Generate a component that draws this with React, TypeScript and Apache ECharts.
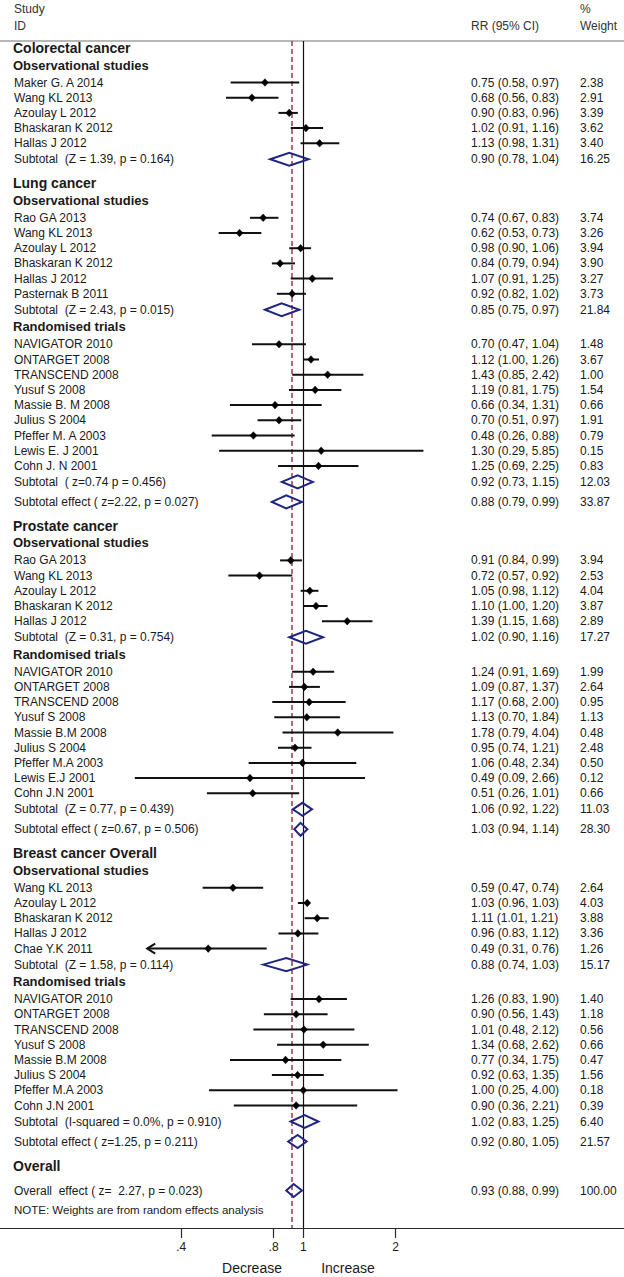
import React, { useEffect, useRef } from "react";
import * as echarts from "echarts";

const WIDTH = 624;
const HEIGHT = 1277;
const FONT = '"Liberation Sans", Arial, Helvetica, sans-serif';

// ---------------- Data ----------------
// Colorectal cancer – observational studies
const crcObsStudies = ["Maker G. A 2014", "Wang KL 2013", "Azoulay L 2012", "Bhaskaran K 2012", "Hallas J 2012"];
const crcObsRR = [0.75, 0.68, 0.9, 1.02, 1.13];
const crcObsLo = [0.58, 0.56, 0.83, 0.91, 0.98];
const crcObsHi = [0.97, 0.83, 0.96, 1.16, 1.31];
const crcObsW = [2.38, 2.91, 3.39, 3.62, 3.4];
const crcObsSubtotal = { label: "Subtotal  (Z = 1.39, p = 0.164)", rr: 0.9, lo: 0.78, hi: 1.04, w: 16.25 };

// Lung cancer – observational studies
const lungObsStudies = ["Rao GA 2013", "Wang KL 2013", "Azoulay L 2012", "Bhaskaran K 2012", "Hallas J 2012", "Pasternak B 2011"];
const lungObsRR = [0.74, 0.62, 0.98, 0.84, 1.07, 0.92];
const lungObsLo = [0.67, 0.53, 0.9, 0.79, 0.91, 0.82];
const lungObsHi = [0.83, 0.73, 1.06, 0.94, 1.25, 1.02];
const lungObsW = [3.74, 3.26, 3.94, 3.9, 3.27, 3.73];
const lungObsSubtotal = { label: "Subtotal  (Z = 2.43, p = 0.015)", rr: 0.85, lo: 0.75, hi: 0.97, w: 21.84 };

// Lung cancer – randomised trials
const lungRctStudies = ["NAVIGATOR 2010", "ONTARGET 2008", "TRANSCEND 2008", "Yusuf S 2008", "Massie B. M 2008", "Julius S 2004", "Pfeffer M. A 2003", "Lewis E. J 2001", "Cohn J. N 2001"];
const lungRctRR = [0.7, 1.12, 1.43, 1.19, 0.66, 0.7, 0.48, 1.3, 1.25];
const lungRctLo = [0.47, 1.0, 0.85, 0.81, 0.34, 0.51, 0.26, 0.29, 0.69];
const lungRctHi = [1.04, 1.26, 2.42, 1.75, 1.31, 0.97, 0.88, 5.85, 2.25];
const lungRctW = [1.48, 3.67, 1.0, 1.54, 0.66, 1.91, 0.79, 0.15, 0.83];
const lungRctSubtotal = { label: "Subtotal  ( z=0.74 p = 0.456)", rr: 0.92, lo: 0.73, hi: 1.15, w: 12.03 };
const lungEffect = { label: "Subtotal effect ( z=2.22, p = 0.027)", rr: 0.88, lo: 0.79, hi: 0.99, w: 33.87 };

// Prostate cancer – observational studies
const prosObsStudies = ["Rao GA 2013", "Wang KL 2013", "Azoulay L 2012", "Bhaskaran K 2012", "Hallas J 2012"];
const prosObsRR = [0.91, 0.72, 1.05, 1.1, 1.39];
const prosObsLo = [0.84, 0.57, 0.98, 1.0, 1.15];
const prosObsHi = [0.99, 0.92, 1.12, 1.2, 1.68];
const prosObsW = [3.94, 2.53, 4.04, 3.87, 2.89];
const prosObsSubtotal = { label: "Subtotal  (Z = 0.31, p = 0.754)", rr: 1.02, lo: 0.9, hi: 1.16, w: 17.27 };

// Prostate cancer – randomised trials
const prosRctStudies = ["NAVIGATOR 2010", "ONTARGET 2008", "TRANSCEND 2008", "Yusuf S 2008", "Massie B.M 2008", "Julius S 2004", "Pfeffer M.A 2003", "Lewis E.J 2001", "Cohn J.N 2001"];
const prosRctRR = [1.24, 1.09, 1.17, 1.13, 1.78, 0.95, 1.06, 0.49, 0.51];
const prosRctLo = [0.91, 0.87, 0.68, 0.7, 0.79, 0.74, 0.48, 0.09, 0.26];
const prosRctHi = [1.69, 1.37, 2.0, 1.84, 4.04, 1.21, 2.34, 2.66, 1.01];
const prosRctW = [1.99, 2.64, 0.95, 1.13, 0.48, 2.48, 0.5, 0.12, 0.66];
const prosRctSubtotal = { label: "Subtotal  (Z = 0.77, p = 0.439)", rr: 1.06, lo: 0.92, hi: 1.22, w: 11.03 };
const prosEffect = { label: "Subtotal effect ( z=0.67, p = 0.506)", rr: 1.03, lo: 0.94, hi: 1.14, w: 28.3 };

// Breast cancer – observational studies
const brObsStudies = ["Wang KL 2013", "Azoulay L 2012", "Bhaskaran K 2012", "Hallas J 2012", "Chae Y.K 2011"];
const brObsRR = [0.59, 1.03, 1.11, 0.96, 0.49];
const brObsLo = [0.47, 0.96, 1.01, 0.83, 0.31];
const brObsHi = [0.74, 1.03, 1.21, 1.12, 0.76];
const brObsW = [2.64, 4.03, 3.88, 3.36, 1.26];
const brObsSubtotal = { label: "Subtotal  (Z = 1.58, p = 0.114)", rr: 0.88, lo: 0.74, hi: 1.03, w: 15.17 };

// Breast cancer – randomised trials
const brRctStudies = ["NAVIGATOR 2010", "ONTARGET 2008", "TRANSCEND 2008", "Yusuf S 2008", "Massie B.M 2008", "Julius S 2004", "Pfeffer M.A 2003", "Cohn J.N 2001"];
const brRctRR = [1.26, 0.9, 1.01, 1.34, 0.77, 0.92, 1.0, 0.9];
const brRctLo = [0.83, 0.56, 0.48, 0.68, 0.34, 0.63, 0.25, 0.36];
const brRctHi = [1.9, 1.43, 2.12, 2.62, 1.75, 1.35, 4.0, 2.21];
const brRctW = [1.4, 1.18, 0.56, 0.66, 0.47, 1.56, 0.18, 0.39];
const brRctSubtotal = { label: "Subtotal  (I-squared = 0.0%, p = 0.910)", rr: 1.02, lo: 0.83, hi: 1.25, w: 6.4 };
const brEffect = { label: "Subtotal effect ( z=1.25, p = 0.211)", rr: 0.92, lo: 0.8, hi: 1.05, w: 21.57 };

// Overall
const overallEffect = { label: "Overall  effect ( z=  2.27, p = 0.023)", rr: 0.93, lo: 0.88, hi: 0.99, w: 100.0 };

const xTickValues = [0.4, 0.8, 1, 2];
const nullEffect = 1;
const pooledReference = 0.91;
const noteText = "NOTE: Weights are from random effects analysis";

// ---------------- Layout ----------------
type Kind = "section" | "group" | "study" | "subtotal" | "effect" | "note";
interface Row {
  kind: Kind;
  label: string;
  rr?: number;
  lo?: number;
  hi?: number;
  w?: number;
  scale?: number;
  y: number;
}

// panels of the original figure were drawn at different horizontal scales
const SCALE_MAIN = 0;
const SCALE_RCT = 1;
const SCALE_RCT_PROSTATE = 2;
const axisScales = [
  { pxPerLn: 133.3, onePx: 303.3 },
  { pxPerLn: 68, onePx: 303.3 },
  { pxPerLn: 68, onePx: 298.5 },
];
const ARROW_BELOW = 0.33;

const rows: Row[] = [];
const add = (r: Omit<Row, "y">) => rows.push({ ...r, y: 0 });
const addStudies = (names: string[], rr: number[], lo: number[], hi: number[], w: number[], scale: number) =>
  names.forEach((n, i) => add({ kind: "study", label: n, rr: rr[i], lo: lo[i], hi: hi[i], w: w[i], scale }));
const addPooled = (kind: Kind, p: { label: string; rr: number; lo: number; hi: number; w: number }, scale: number) =>
  add({ kind, label: p.label, rr: p.rr, lo: p.lo, hi: p.hi, w: p.w, scale });

add({ kind: "section", label: "Colorectal cancer" });
add({ kind: "group", label: "Observational studies" });
addStudies(crcObsStudies, crcObsRR, crcObsLo, crcObsHi, crcObsW, SCALE_MAIN);
addPooled("subtotal", crcObsSubtotal, SCALE_MAIN);

add({ kind: "section", label: "Lung cancer" });
add({ kind: "group", label: "Observational studies" });
addStudies(lungObsStudies, lungObsRR, lungObsLo, lungObsHi, lungObsW, SCALE_MAIN);
addPooled("subtotal", lungObsSubtotal, SCALE_MAIN);
add({ kind: "group", label: "Randomised trials" });
addStudies(lungRctStudies, lungRctRR, lungRctLo, lungRctHi, lungRctW, SCALE_RCT);
addPooled("subtotal", lungRctSubtotal, SCALE_RCT);
addPooled("effect", lungEffect, SCALE_MAIN);

add({ kind: "section", label: "Prostate cancer" });
add({ kind: "group", label: "Observational studies" });
addStudies(prosObsStudies, prosObsRR, prosObsLo, prosObsHi, prosObsW, SCALE_MAIN);
addPooled("subtotal", prosObsSubtotal, SCALE_MAIN);
add({ kind: "group", label: "Randomised trials" });
addStudies(prosRctStudies, prosRctRR, prosRctLo, prosRctHi, prosRctW, SCALE_RCT_PROSTATE);
addPooled("subtotal", prosRctSubtotal, SCALE_RCT_PROSTATE);
addPooled("effect", prosEffect, SCALE_RCT_PROSTATE);

add({ kind: "section", label: "Breast cancer Overall" });
add({ kind: "group", label: "Observational studies" });
addStudies(brObsStudies, brObsRR, brObsLo, brObsHi, brObsW, SCALE_MAIN);
addPooled("subtotal", brObsSubtotal, SCALE_MAIN);
add({ kind: "group", label: "Randomised trials" });
addStudies(brRctStudies, brRctRR, brRctLo, brRctHi, brRctW, SCALE_RCT);
addPooled("subtotal", brRctSubtotal, SCALE_RCT);
addPooled("effect", brEffect, SCALE_RCT);

add({ kind: "section", label: "Overall" });
addPooled("effect", overallEffect, SCALE_MAIN);
add({ kind: "note", label: noteText });

function gap(prev: Kind | null, k: Kind): number {
  if (prev === null) return 48;
  switch (k) {
    case "section":
      return 24;
    case "group":
      return 17;
    case "study":
      return prev === "study" ? 15.2 : 17.5;
    case "subtotal":
      return 16;
    case "effect":
      return prev === "section" ? 25 : 20;
    case "note":
      return 19;
  }
  return 15;
}
{
  let y = 0;
  let prev: Kind | null = null;
  for (const r of rows) {
    y += gap(prev, r.kind);
    r.y = y;
    prev = r.kind;
  }
}

const PLOT_TOP = 41;
const PLOT_BOTTOM = 1228;
const NAVY = "#1f2580";
const MAROON = "#9c3a4a";
const TEXT = "#1a1a1a";
const LABEL_X = 14;
const RR_X = 471;
const W_X = 580;

const fmt = (v: number) => v.toFixed(2);

function buildOption(): any {
  const xAxes = axisScales.map((s, i) => ({
    type: "value",
    gridIndex: 0,
    position: "bottom",
    min: -s.onePx / s.pxPerLn,
    max: (WIDTH - s.onePx) / s.pxPerLn,
    show: i === 0,
    splitLine: { show: false },
    axisLine: { show: true, onZero: false, lineStyle: { color: "#2a2a2a", width: 1.2 } },
    axisTick: {
      show: true,
      customValues: xTickValues.map((v) => Math.log(v)),
      length: 10,
      lineStyle: { color: "#2a2a2a", width: 1.2 },
    },
    axisLabel: {
      show: true,
      customValues: xTickValues.map((v) => Math.log(v)),
      margin: 13,
      fontSize: 12,
      fontFamily: FONT,
      color: TEXT,
      formatter: (v: number) => String(Math.round(Math.exp(v) * 10) / 10).replace(/^0\./, "."),
    },
  }));

  const markSeries = axisScales.map((_, si) => ({
    type: "custom",
    xAxisIndex: si,
    yAxisIndex: 0,
    clip: false,
    silent: true,
    z: 5,
    encode: { x: [2, 3, 4], y: 0 },
    data: rows
      .filter((r) => r.rr !== undefined && r.scale === si)
      .map((r) => [
        r.y,
        r.kind === "study" ? 0 : 1,
        Math.log(r.rr as number),
        Math.log(r.lo as number),
        Math.log(r.hi as number),
        si === SCALE_MAIN && (r.lo as number) < ARROW_BELOW ? 1 : 0,
      ]),
    renderItem: (_params: any, api: any) => {
      const y = api.value(0);
      const pooled = api.value(1) === 1;
      const c = api.coord([api.value(2), y]);
      const l = api.coord([api.value(3), y]);
      const h = api.coord([api.value(4), y]);
      if (pooled) {
        return {
          type: "polygon",
          shape: {
            points: [
              [l[0], c[1]],
              [c[0], c[1] - 6.5],
              [h[0], c[1]],
              [c[0], c[1] + 6.5],
            ],
          },
          style: { fill: "none", stroke: NAVY, lineWidth: 2 },
        };
      }
      const children: any[] = [
        {
          type: "line",
          shape: { x1: l[0], y1: c[1], x2: h[0], y2: c[1] },
          style: { stroke: "#111", lineWidth: 2 },
        },
        {
          type: "polygon",
          shape: {
            points: [
              [c[0] - 3.5, c[1]],
              [c[0], c[1] - 3.8],
              [c[0] + 3.5, c[1]],
              [c[0], c[1] + 3.8],
            ],
          },
          style: { fill: "#000", stroke: "#000", lineWidth: 0.5 },
        },
      ];
      if (api.value(5) === 1) {
        children.push({
          type: "polyline",
          shape: {
            points: [
              [l[0] + 8, c[1] - 5],
              [l[0], c[1]],
              [l[0] + 8, c[1] + 5],
            ],
          },
          style: { stroke: "#111", lineWidth: 2, fill: "none" },
        });
      }
      return { type: "group", children };
    },
    markLine:
      si === SCALE_MAIN
        ? {
            silent: true,
            symbol: "none",
            label: { show: false },
            animation: false,
            data: [
              { xAxis: Math.log(pooledReference), lineStyle: { color: MAROON, type: [5, 3], width: 1.5 } },
              { xAxis: Math.log(nullEffect), lineStyle: { color: "#111", type: "solid", width: 1.2 } },
            ],
          }
        : undefined,
  }));

  const textSeries = {
    type: "custom",
    xAxisIndex: 0,
    yAxisIndex: 0,
    clip: false,
    silent: true,
    z: 6,
    encode: { x: 0, y: 1 },
    data: rows.map((r, i) => [0, r.y, i]),
    renderItem: (_params: any, api: any) => {
      const y = api.coord([0, api.value(1)])[1];
      const r = rows[api.value(2)];
      const bold = r.kind === "section" || r.kind === "group";
      const size = r.kind === "section" ? 14 : r.kind === "group" ? 13 : r.kind === "note" ? 11.5 : 12;
      const children: any[] = [
        {
          type: "text",
          x: bold ? LABEL_X - 1 : LABEL_X,
          y,
          style: {
            text: r.label,
            fill: TEXT,
            fontSize: size,
            fontWeight: bold ? "bold" : "normal",
            fontFamily: FONT,
            align: "left",
            verticalAlign: "middle",
          },
        },
      ];
      if (r.rr !== undefined) {
        children.push({
          type: "text",
          x: RR_X,
          y,
          style: {
            text: `${fmt(r.rr)} (${fmt(r.lo as number)}, ${fmt(r.hi as number)})`,
            fill: TEXT,
            fontSize: 12,
            fontFamily: FONT,
            align: "left",
            verticalAlign: "middle",
          },
        });
        children.push({
          type: "text",
          x: W_X,
          y,
          style: {
            text: fmt(r.w as number),
            fill: TEXT,
            fontSize: 12,
            fontFamily: FONT,
            align: "left",
            verticalAlign: "middle",
          },
        });
      }
      return { type: "group", children };
    },
  };

  const headerText = (text: string, x: number, y: number, size = 12) => ({
    type: "text",
    x,
    y,
    style: { text, fill: "#333", fontSize: size, fontFamily: FONT, align: "left", verticalAlign: "middle" },
  });

  return {
    animation: false,
    backgroundColor: "#ffffff",
    grid: { left: 0, right: 0, top: PLOT_TOP, bottom: HEIGHT - PLOT_BOTTOM, containLabel: false },
    xAxis: xAxes,
    yAxis: { type: "value", min: PLOT_TOP, max: PLOT_BOTTOM, inverse: true, show: false },
    series: [...markSeries, textSeries],
    graphic: [
      headerText("Study", LABEL_X, 9),
      headerText("ID", LABEL_X, 26),
      headerText("RR (95% CI)", RR_X, 26),
      headerText("%", W_X, 9),
      headerText("Weight", W_X, 26),
      {
        type: "line",
        shape: { x1: 0, y1: PLOT_TOP, x2: WIDTH, y2: PLOT_TOP },
        style: { stroke: "#a0a0a0", lineWidth: 1.5 },
      },
      {
        type: "text",
        x: 252,
        y: 1268,
        style: { text: "Decrease", fill: TEXT, fontSize: 14, fontFamily: FONT, align: "center", verticalAlign: "middle" },
      },
      {
        type: "text",
        x: 348,
        y: 1268,
        style: { text: "Increase", fill: TEXT, fontSize: 14, fontFamily: FONT, align: "center", verticalAlign: "middle" },
      },
    ],
  };
}

export default function App() {
  const ref = useRef<HTMLDivElement>(null);
  useEffect(() => {
    if (!ref.current) return;
    const chart = echarts.init(ref.current, undefined, { renderer: "svg" });
    chart.setOption(buildOption());
    return () => chart.dispose();
  }, []);
  return (
    <div
      ref={ref}
      style={{ position: "absolute", left: 0, top: 0, width: WIDTH, height: HEIGHT, background: "#fff" }}
    />
  );
}
